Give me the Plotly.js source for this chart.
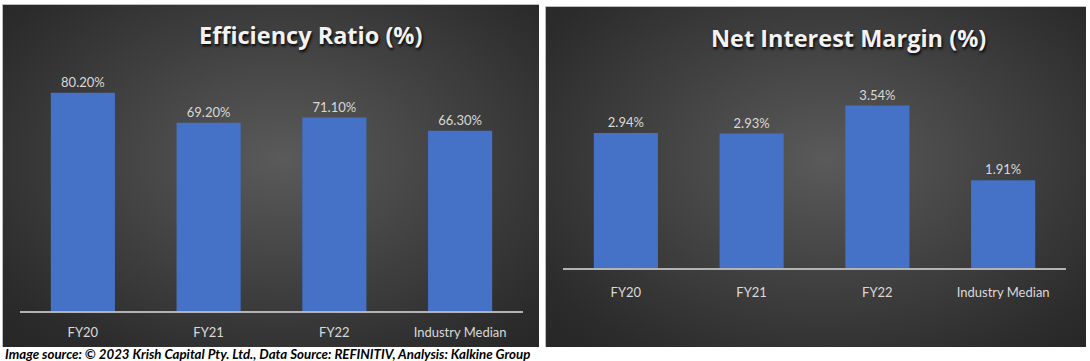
<!DOCTYPE html>
<html>
<head>
<meta charset="utf-8">
<script src="https://cdn.plot.ly/plotly-3.0.1.min.js"></script>
<style>
  html, body { margin:0; padding:0; background:#ffffff; }
  #wrap { position:relative; width:1090px; height:361px; overflow:hidden; }
  .panel { position:absolute; box-sizing:border-box; border-top:1px solid #bdbdbd; border-left:1px solid #bdbdbd;
           background: radial-gradient(ellipse at 52% 45%, #5a5a5a 0%, #444444 40%, #2b2b2b 85%, #262626 100%); }
  #p1 { left:2px; top:4px; width:537px; height:343px; }
  #p2 { left:545px; top:6px; width:541px; height:341px; }
  #chart { position:absolute; left:0; top:0; width:1090px; height:361px; }
</style>
</head>
<body>
<div id="wrap">
  <div class="panel" id="p1"></div>
  <div class="panel" id="p2"></div>
  <div id="chart"></div>
</div>
<script>
const categories = ["FY20", "FY21", "FY22", "Industry Median"];
const efficiencyRatio = [80.20, 69.20, 71.10, 66.30];
const netInterestMargin = [2.94, 2.93, 3.54, 1.91];
const leftTitle = "Efficiency Ratio (%)";
const rightTitle = "Net Interest Margin (%)";
const caption = "Image source: © 2023 Krish Capital Pty. Ltd., Data Source: REFINITIV, Analysis: Kalkine Group";

const barColor = "#4571c6";
const labelFont = {family: "Lato, 'Open Sans', sans-serif", size: 13, color: "#d9d9d9"};
const titleFont = {family: "'Open Sans', Lato, sans-serif", size: 23.5, color: "#f2f2f2", shadow: "1px 2px 3px #000000"};

const traces = [
  {type:"bar", x:categories, y:efficiencyRatio, xaxis:"x", yaxis:"y",
   marker:{color:barColor, line:{width:0}},
   texttemplate:"%{y:.2f}%", textposition:"outside", cliponaxis:false,
   textfont:labelFont, hoverinfo:"skip"},
  {type:"bar", x:categories, y:netInterestMargin, xaxis:"x2", yaxis:"y2",
   marker:{color:barColor, line:{width:0}},
   texttemplate:"%{y:.2f}%", textposition:"outside", cliponaxis:false,
   textfont:labelFont, hoverinfo:"skip"}
];

const xCommon = {type:"category", showgrid:false, zeroline:false, showline:true,
  linecolor:"#b3b3b3", linewidth:2, ticks:"", tickfont:labelFont, ticklabelstandoff:8, fixedrange:true};
const yCommon = {showgrid:false, zeroline:false, showline:false, showticklabels:false, ticks:"", fixedrange:true};

const layout = {
  width:1090, height:361,
  margin:{l:0, r:0, t:0, b:0},
  paper_bgcolor:"rgba(0,0,0,0)", plot_bgcolor:"rgba(0,0,0,0)",
  showlegend:false, bargap:0.49,
  xaxis: Object.assign({}, xCommon, {domain:[0.01835, 0.4798], anchor:"y"}),
  yaxis: Object.assign({}, yCommon, {domain:[0.1385, 0.8166], range:[0, 90], anchor:"x"}),
  xaxis2: Object.assign({}, xCommon, {domain:[0.5165, 0.978], anchor:"y2", ticklabelstandoff:11}),
  yaxis2: Object.assign({}, yCommon, {domain:[0.2576, 0.7662], range:[0, 4], anchor:"x2"}),
  annotations:[
    {text:"<b>"+leftTitle+"</b>", xref:"paper", yref:"paper", x:311/1090, y:1-35/361,
     xanchor:"center", yanchor:"middle", showarrow:false, font:titleFont},
    {text:"<b>"+rightTitle+"</b>", xref:"paper", yref:"paper", x:848/1090, y:1-38/361,
     xanchor:"center", yanchor:"middle", showarrow:false, font:titleFont},
    {text:"<b><i>"+caption+"</i></b>", xref:"paper", yref:"paper", x:3/1090, y:1-354/361,
     xanchor:"left", yanchor:"middle", showarrow:false,
     font:{family:"Lato, 'Open Sans', sans-serif", size:13.3, color:"#000000"}}
  ]
};

Plotly.newPlot("chart", traces, layout, {staticPlot:true, displayModeBar:false});
</script>
</body>
</html>
